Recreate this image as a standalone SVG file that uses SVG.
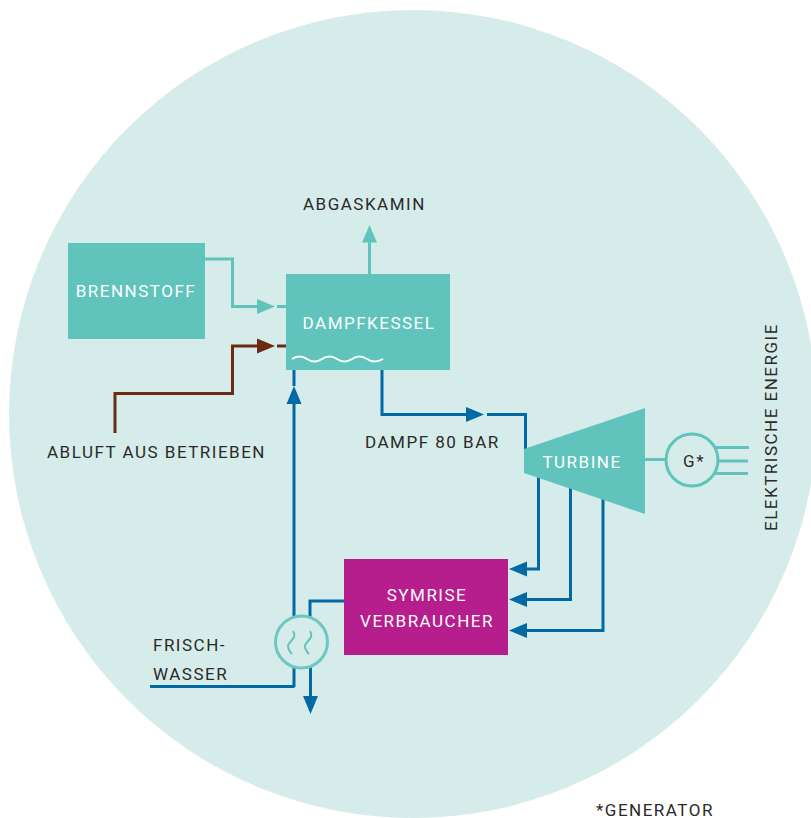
<svg xmlns="http://www.w3.org/2000/svg" width="811" height="818" viewBox="0 0 811 818">
<style>
text{font-family:Roboto,"Liberation Sans",sans-serif;font-size:17px;letter-spacing:1.5px;fill:#2b2a29}
text.w{fill:#fff}
.m{text-anchor:middle}
.c{fill:none;stroke-width:3}
.t{stroke:#60c4bc}.b{stroke:#0069a6}.r{stroke:#6b2a12}
.at{fill:#60c4bc}.ab{fill:#0069a6}.ar{fill:#6b2a12}
</style>
<rect width="811" height="818" fill="#fff"/>
<circle id="bg" cx="413" cy="414" r="404" fill="#d6ecea"/>
<g id="connectors">
<path class="c t" d="M204 259H232.500V306.500H257M277 306.500H287"/>
<polygon class="at" points="257,299 275,306.500 257,314"/>
<path class="c t" d="M369.500 275V240"/>
<polygon class="at" points="362,242.500 369.500,225 377,242.500"/>
<path class="c r" d="M115 433V393.500H232.500V346H257M277 346H287"/>
<polygon class="ar" points="257,338.500 275,346 257,353.500"/>
<path class="c b" d="M294 687V400M294 386V370"/>
<polygon class="ab" points="286.500,404 294,386 301.500,404"/>
<path class="c b" d="M150 686.500H294.500"/>
<path class="c b" d="M382 370V414.500H468M487 414.500H525.500V450"/>
<polygon class="ab" points="466,407 484,414.500 466,422"/>
<path class="c b" d="M538.500 470V569H525"/>
<polygon class="ab" points="527,561.500 509,569 527,576.500"/>
<path class="c b" d="M570.500 485V599.500H525"/>
<polygon class="ab" points="527,592 509,599.500 527,607"/>
<path class="c b" d="M603 497V630.500H525"/>
<polygon class="ab" points="527,623 509,630.500 527,638"/>
<path class="c b" d="M345 601H310V620"/>
<path class="c b" d="M310.500 665V698"/>
<polygon class="ab" points="303,696 310.500,714 318,696"/>
<path class="c t" d="M645 459.500H667M714 447.500H749M717 461H748M714 473.500H748"/>
</g>
<g id="brennstoff"><rect x="68" y="243" width="137" height="96" fill="#60c4bc"/><text class="w m" x="136" y="297">BRENNSTOFF</text></g>
<g id="dampfkessel"><rect x="286" y="274" width="164" height="96" fill="#60c4bc"/><text class="w m" x="369" y="329">DAMPFKESSEL</text>
<path d="M292 359q7.500-5 15 0t15 0t15 0t15 0t15 0t16 0" fill="none" stroke="#fff" stroke-width="2"/></g>
<g id="turbine"><polygon points="524,449 645,408 645,514 524,473" fill="#60c4bc"/><text class="w m" x="582" y="468">TURBINE</text></g>
<g id="generator"><circle cx="692" cy="460" r="26" fill="#d6ecea" stroke="#60c4bc" stroke-width="3"/><text class="m" x="694" y="467">G*</text></g>
<g id="verbraucher"><rect x="344" y="559" width="164" height="96" fill="#b51e8c"/><text class="w m" x="427" y="601">SYMRISE</text><text class="w m" x="427" y="627">VERBRAUCHER</text></g>
<g id="waermetauscher"><circle cx="301.500" cy="642" r="26" fill="#d6ecea" stroke="#6cc8c0" stroke-width="3"/>
<path d="M293 631c5 7-5 11-5 15s2 6 4 8M310 631c5 7-5 11-5 15s2 6 4 8" fill="none" stroke="#60c4bc" stroke-width="2"/></g>
<g id="labels">
<text x="303" y="210">ABGASKAMIN</text>
<text x="47" y="458">ABLUFT AUS BETRIEBEN</text>
<text x="365" y="448">DAMPF 80 BAR</text>
<text x="153" y="651">FRISCH-</text>
<text x="153" y="680">WASSER</text>
<text x="596" y="816">*GENERATOR</text>
<text transform="translate(777 531) rotate(-90)">ELEKTRISCHE ENERGIE</text>
</g>
</svg>
